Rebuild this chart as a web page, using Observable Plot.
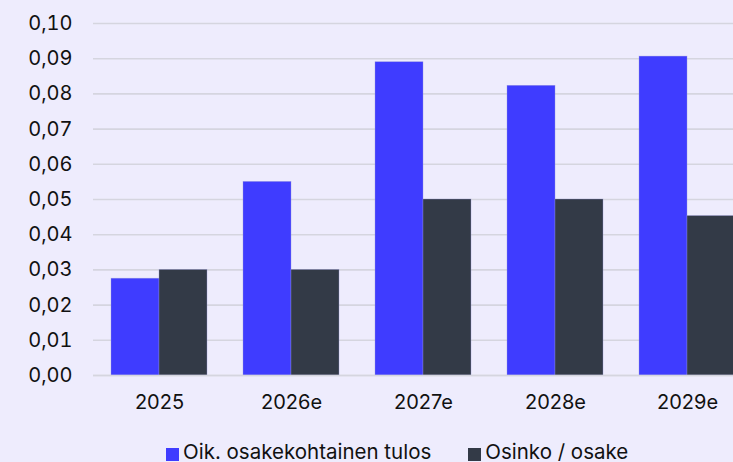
<!DOCTYPE html>
<html>
<head>
<meta charset="utf-8">
<script src="https://cdn.jsdelivr.net/npm/d3@7"></script>
<script src="https://cdn.jsdelivr.net/npm/@observablehq/plot@0.6"></script>
<style>
  html, body { margin: 0; padding: 0; background: #eeecfd; }
  #wrap { position: relative; width: 733px; height: 462px; overflow: hidden; font-family: Inter, "Liberation Sans", sans-serif; }
  #chart svg { max-width: none !important; }
  #legend { position: absolute; left: 166px; top: 439px; display: flex; align-items: center; font-size: 20.5px; color: #111; white-space: nowrap; }
  .item { display: flex; align-items: center; margin-right: 37px; }
  .sw { width: 13px; height: 13px; margin-right: 4px; margin-top: 5px; }
</style>
</head>
<body>
<div id="wrap"><div id="chart"></div><div id="legend"></div></div>
<script>
const years = ["2025", "2026e", "2027e", "2028e", "2029e"];
const seriesNames = ["Oik. osakekohtainen tulos", "Osinko / osake"];
const eps = [0.0275, 0.055, 0.089, 0.0823, 0.0906];
const dividend = [0.03, 0.03, 0.05, 0.05, 0.0453];
const colors = ["#3f3cff", "#333a47"];
const yTicks = [0, 0.01, 0.02, 0.03, 0.04, 0.05, 0.06, 0.07, 0.08, 0.09, 0.10];

const epsData = years.map((y, i) => ({year: y, series: seriesNames[0], value: eps[i]}));
const divData = years.map((y, i) => ({year: y, series: seriesNames[1], value: dividend[i]}));

const fmt = d => d.toFixed(2).replace(".", ",");

const W = 753, ML = 93, MR = 0;
const padIn = 0.273, padOut = 0.136;
const step = (W - ML - MR) / (years.length - padIn + 2 * padOut);
const half = step * (1 - padIn) / 2;

const barStyle = {stroke: "#9a9ad8", strokeWidth: 0.6, strokeOpacity: 0.6};

const chart = Plot.plot({
  width: W,
  height: 425,
  marginLeft: ML,
  marginRight: MR,
  marginTop: 23,
  marginBottom: 50,
  style: {background: "transparent", fontFamily: "Inter, 'Liberation Sans', sans-serif", fontSize: "20px", color: "#111", maxWidth: "none"},
  x: {domain: years, paddingInner: padIn, paddingOuter: padOut, label: null},
  y: {domain: [0, 0.1], axis: null},
  color: {domain: seriesNames, range: colors},
  marks: [
    Plot.gridY(yTicks, {stroke: "#d5d5df", strokeWidth: 1.6, strokeOpacity: 1}),
    Plot.axisY(yTicks, {tickSize: 0, tickPadding: 21, tickFormat: fmt, fontSize: 20, label: null}),
    Plot.axisX({anchor: "bottom", tickSize: 0, tickPadding: 19, fontSize: 20, label: null}),
    Plot.barY(epsData, {x: "year", y: "value", fill: "series", insetRight: half, ...barStyle}),
    Plot.barY(divData, {x: "year", y: "value", fill: "series", insetLeft: half, ...barStyle}),
    Plot.ruleY([0], {stroke: "#d5d5df", strokeWidth: 1.6})
  ]
});
document.getElementById("chart").appendChild(chart);

const legend = document.getElementById("legend");
seriesNames.forEach((s, i) => {
  const it = document.createElement("div");
  it.className = "item";
  const sw = document.createElement("div");
  sw.className = "sw";
  sw.style.background = colors[i];
  const t = document.createElement("span");
  t.textContent = s;
  it.appendChild(sw);
  it.appendChild(t);
  legend.appendChild(it);
});
</script>
</body>
</html>
